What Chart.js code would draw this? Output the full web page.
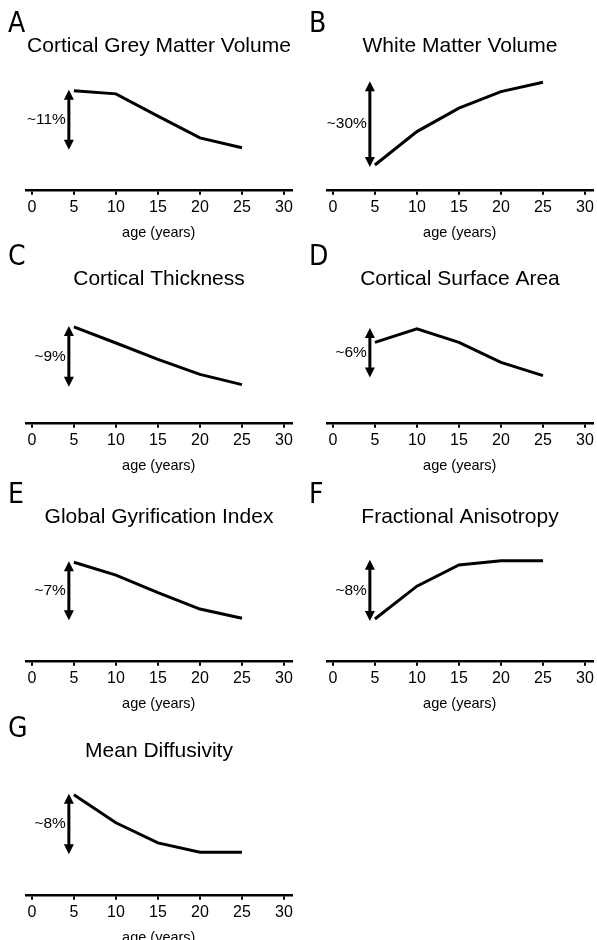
<!DOCTYPE html>
<html>
<head>
<meta charset="utf-8">
<script src="https://cdn.jsdelivr.net/npm/chart.js@4"></script>
<style>
  html, body { margin: 0; padding: 0; background: #fff; }
  body { width: 597px; height: 940px; position: relative; overflow: hidden; }
  .panel { position: absolute; width: 296px; height: 250px; }
</style>
</head>
<body>
<div class="panel" style="left:0;top:0"><canvas id="c0" width="296" height="250"></canvas></div>
<div class="panel" style="left:301px;top:0"><canvas id="c1" width="296" height="250"></canvas></div>
<div class="panel" style="left:0;top:233px"><canvas id="c2" width="296" height="250"></canvas></div>
<div class="panel" style="left:301px;top:233px"><canvas id="c3" width="296" height="250"></canvas></div>
<div class="panel" style="left:0;top:471px"><canvas id="c4" width="296" height="250"></canvas></div>
<div class="panel" style="left:301px;top:471px"><canvas id="c5" width="296" height="250"></canvas></div>
<div class="panel" style="left:0;top:705px"><canvas id="c6" width="296" height="250"></canvas></div>
<script>
// ages sampled on every curve
const ages = [5, 10, 15, 20, 25];
const xTicks = [0, 5, 10, 15, 20, 25, 30];

const letters = ['A', 'B', 'C', 'D', 'E', 'F', 'G'];
const titles = [
  'Cortical Grey Matter Volume',
  'White Matter Volume',
  'Cortical Thickness',
  'Cortical Surface Area',
  'Global Gyrification Index',
  'Fractional Anisotropy',
  'Mean Diffusivity'
];
const changeLabels = ['~11%', '~30%', '~9%', '~6%', '~7%', '~8%', '~8%'];

// % change relative to age 5
const greyMatter   = [0, -0.6, -4.9, -9.1, -11];
const whiteMatter  = [0, 12.1, 20.6, 26.6, 30];
const thickness    = [0, -2.5, -5.05, -7.4, -9];
const surfaceArea  = [0, 1.74, 0, -2.6, -4.3];
const gyrification = [0, -1.6, -3.8, -5.85, -7];
const anisotropy   = [0, 4.5, 7.4, 8, 8];
const diffusivity  = [0, -3.9, -6.7, -8, -8];

// each panel has its own vertical scale
const yMins = [-19.3, -9.31, -15.09, -10.52, -12.43, -5.86, -14.03];
const yMaxs = [3.87, 34.17, 3.63, 5.0, 2.57, 10.6, 2.64];

const series = [greyMatter, whiteMatter, thickness, surfaceArea, gyrification, anisotropy, diffusivity];

Chart.defaults.font.family = '"Liberation Sans", Arial, sans-serif';
Chart.defaults.color = '#000';

// panel letter, double arrow spanning the change, and its label
const panelDecor = {
  id: 'panelDecor',
  afterDraw(chart, args, opts) {
    const ctx = chart.ctx;
    const x = chart.scales.x;
    const y = chart.scales.y;
    const vals = chart.data.datasets[0].data.map(d => d.y);
    const top = y.getPixelForValue(Math.max(...vals)) - 1;
    const bot = y.getPixelForValue(Math.min(...vals)) + 2;
    const ax = x.getPixelForValue(opts.arrowAge);
    ctx.save();
    ctx.fillStyle = '#000';
    ctx.strokeStyle = '#000';
    ctx.font = '28px "DejaVu Sans Condensed", "Liberation Sans Narrow", sans-serif';
    ctx.textBaseline = 'alphabetic';
    ctx.textAlign = 'left';
    ctx.fillText(opts.letter, 8, 32);

    const head = 10, hw = 5;
    ctx.lineWidth = 3;
    ctx.beginPath();
    ctx.moveTo(ax, top + head - 1);
    ctx.lineTo(ax, bot - head + 1);
    ctx.stroke();
    ctx.beginPath();
    ctx.moveTo(ax, top);
    ctx.lineTo(ax - hw, top + head);
    ctx.lineTo(ax + hw, top + head);
    ctx.closePath();
    ctx.fill();
    ctx.beginPath();
    ctx.moveTo(ax, bot);
    ctx.lineTo(ax - hw, bot - head);
    ctx.lineTo(ax + hw, bot - head);
    ctx.closePath();
    ctx.fill();

    ctx.font = '15.5px "Liberation Sans", Arial, sans-serif';
    ctx.textAlign = 'right';
    ctx.textBaseline = 'middle';
    ctx.fillText(opts.label, ax - 3, (top + bot) / 2);
    ctx.restore();
  }
};

series.forEach((vals, i) => {
  new Chart(document.getElementById('c' + i), {
    type: 'line',
    data: {
      datasets: [{
        data: ages.map((a, k) => ({ x: a, y: vals[k] })),
        borderColor: '#000',
        borderWidth: 3,
        pointRadius: 0,
        tension: 0,
        fill: false
      }]
    },
    options: {
      responsive: false,
      animation: false,
      layout: { padding: { left: 26, right: 4, top: 0, bottom: 8.7 } },
      plugins: {
        legend: { display: false },
        tooltip: { enabled: false },
        title: {
          display: true,
          text: titles[i],
          font: { size: 21, weight: 'normal' },
          color: '#000',
          padding: { top: 34, bottom: 11.5 }
        },
        panelDecor: { letter: letters[i], label: changeLabels[i], arrowAge: 4.4 }
      },
      scales: {
        x: {
          type: 'linear',
          min: -0.7,
          max: 30.9,
          afterBuildTicks: s => { s.ticks = xTicks.map(v => ({ value: v })); },
          grid: { drawOnChartArea: false, tickLength: 4, color: '#000', lineWidth: 2 },
          border: { display: true, color: '#000', width: 2.5 },
          ticks: { padding: 3, font: { size: 16 }, color: '#000', maxRotation: 0, autoSkip: false },
          title: {
            display: true,
            text: 'age (years)',
            font: { size: 14.5 },
            color: '#000',
            padding: { top: 4, bottom: 0 }
          }
        },
        y: {
          display: false,
          min: yMins[i],
          max: yMaxs[i]
        }
      }
    },
    plugins: [panelDecor]
  });
});
</script>
</body>
</html>
